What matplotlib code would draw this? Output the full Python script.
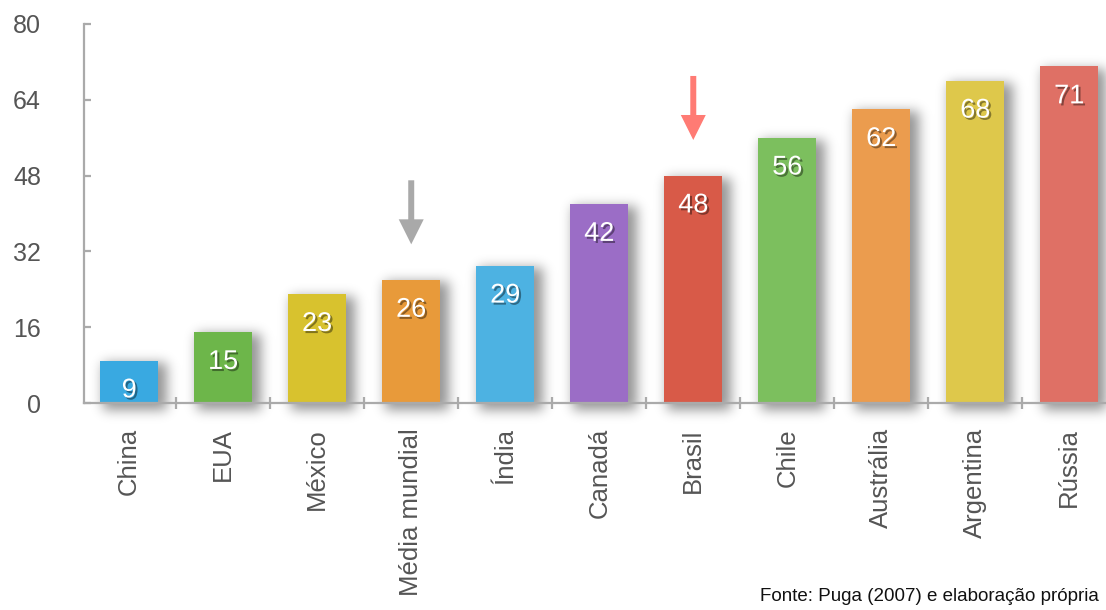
import matplotlib
matplotlib.use("Agg")
import matplotlib.pyplot as plt
import matplotlib.patheffects as pe
import numpy as np

plt.rcParams['font.family'] = ['Liberation Sans', 'DejaVu Sans']

paises = ["China", "EUA", "México", "Média mundial", "Índia", "Canadá",
          "Brasil", "Chile", "Austrália", "Argentina", "Rússia"]
valores = [9, 15, 23, 26, 29, 42, 48, 56, 62, 68, 71]
cores = ["#39a9e1", "#6db64a", "#d8c22e", "#e89a3a", "#4db2e2", "#9b6dc6",
         "#d85a48", "#7cbf5e", "#eb9c4e", "#dec84b", "#df7065"]
yticks = [0, 16, 32, 48, 64, 80]
# setas sobre a média mundial e o Brasil
destaques = {"Média mundial": "#a9a9a9", "Brasil": "#ff7b74"}
fonte = "Fonte: Puga (2007) e elaboração própria"

LARG = 0.62
EIXO = "#aaaaaa"
TXT = "#555555"
XLIM = (-0.48, 10.39)
YLIM = (0, 80)


def gauss_blur(img, sigma):
    r = int(3 * sigma)
    k = np.exp(-0.5 * (np.arange(-r, r + 1) / sigma) ** 2)
    k /= k.sum()
    img = np.apply_along_axis(lambda m: np.convolve(m, k, mode="same"), 0, img)
    img = np.apply_along_axis(lambda m: np.convolve(m, k, mode="same"), 1, img)
    return img


fig = plt.figure(figsize=(11.06, 6.10), dpi=100)
ax = fig.add_axes([0.076, 0.339, 0.924, 0.622])
x = np.arange(len(paises))

# sombra difusa das barras (mascara desfocada desenhada como imagem)
y0 = -7.0
nx, ny = 1022, 412
gx = np.linspace(XLIM[0], XLIM[1], nx)
gy = np.linspace(y0, YLIM[1], ny)
GX, GY = np.meshgrid(gx, gy)
mask = np.zeros_like(GX)
for xi, v in zip(x, valores):
    dentro = ((GX > xi - LARG / 2 + 0.03) & (GX < xi + LARG / 2 + 0.09)
              & (GY > -1.6) & (GY < v - 0.6))
    mask[dentro] = 1.0
mask = gauss_blur(mask, 6)
rgba = np.zeros((ny, nx, 4))
rgba[..., 3] = 0.42 * mask
ax.imshow(rgba, extent=(XLIM[0], XLIM[1], y0, YLIM[1]), origin="lower",
          aspect="auto", interpolation="bilinear", zorder=1, clip_on=False)

ax.bar(x, valores, width=LARG, color=cores, zorder=3)

sombra_txt = [pe.withSimplePatchShadow(offset=(1.5, -1.5), shadow_rgbFace="black", alpha=0.4)]
for xi, v in zip(x, valores):
    ax.text(xi, v - 6.3, str(v), ha="center", va="center", color="white",
            fontsize=19.5, zorder=5, path_effects=sombra_txt)

for nome, cor in destaques.items():
    i = paises.index(nome)
    v = valores[i]
    ax.annotate("", xy=(i, v + 7.5), xytext=(i, v + 21),
                arrowprops=dict(width=4.3, headwidth=18, headlength=18,
                                facecolor=cor, edgecolor="none", shrink=0),
                zorder=5)

ax.set_xlim(*XLIM)
ax.set_ylim(*YLIM)

for s in ["top", "right"]:
    ax.spines[s].set_visible(False)
for s in ["left", "bottom"]:
    ax.spines[s].set_color(EIXO)
    ax.spines[s].set_linewidth(1.6)
    ax.spines[s].set_zorder(4)

ax.set_yticks(yticks)
ax.tick_params(axis="y", direction="in", length=5, width=1.6, color=EIXO,
               labelsize=18, labelcolor=TXT, pad=31)

ax.set_xticks(x)
ax.set_xticklabels(paises, rotation=90, va="top", ha="center")
ax.tick_params(axis="x", which="major", length=0, pad=18,
               labelsize=18.5, labelcolor=TXT)
ax.set_xticks(x[:-1] + 0.5, minor=True)
ax.tick_params(axis="x", which="minor", direction="inout", length=8,
               width=1.6, color=EIXO)

fig.text(0.994, 0.008, fonte, ha="right", va="bottom", fontsize=13.5, color="#111111")

fig.savefig("out.png", dpi=100)
